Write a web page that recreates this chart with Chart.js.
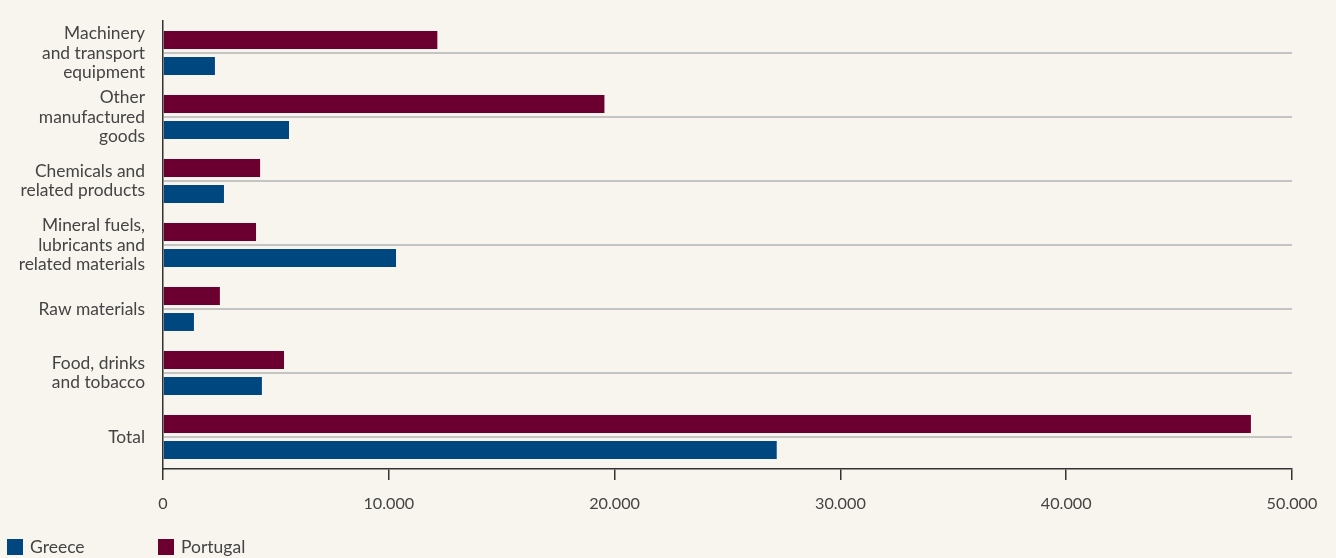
<!DOCTYPE html>
<html>
<head>
<meta charset="utf-8">
<script src="https://cdn.jsdelivr.net/npm/chart.js@4/dist/chart.umd.min.js"></script>
<style>
  html, body { margin: 0; padding: 0; background: #f8f5ee; }
  #wrap { position: relative; width: 1336px; height: 558px; }
  #legend { position: absolute; left: 7px; top: 536px; font: 17.5px Lato, sans-serif; color: #444; }
  #legend span.item { position: absolute; top: 0; white-space: nowrap; }
  #legend i { display: inline-block; width: 16px; height: 16px; vertical-align: -2px; margin-right: 7px; }
</style>
</head>
<body>
<div id="wrap">
  <canvas id="myChart" width="1336" height="558"></canvas>
  <div id="legend"></div>
</div>
<script>
const categories = [
  ["Machinery", "and transport", "equipment"],
  ["Other", "manufactured", "goods"],
  ["Chemicals and", "related products"],
  ["Mineral fuels,", "lubricants and", "related materials"],
  "Raw materials",
  ["Food, drinks", "and tobacco"],
  "Total"
];
const portugal = [12150, 19550, 4300, 4120, 2520, 5360, 48180];
const greece = [2300, 5580, 2700, 10320, 1370, 4380, 27180];
const xTicks = [0, 10000, 20000, 30000, 40000, 50000];

const colorPortugal = "#6b0030";
const colorGreece = "#00467f";
const textColor = "#444";

function formatThousands(v){
  return String(v).replace(/\B(?=(\d{3})+(?!\d))/g, ".");
}

const chart = new Chart("myChart", {
  type: "bar",
  data: {
    labels: categories,
    datasets: [
      { label: "Portugal", data: portugal, backgroundColor: colorPortugal },
      { label: "Greece", data: greece, backgroundColor: colorGreece }
    ]
  },
  options: {
    indexAxis: "y",
    responsive: false,
    animation: false,
    categoryPercentage: 0.8125,
    barPercentage: 0.69,
    layout: { padding: { top: 21, right: 44, bottom: 39, left: 0 } },
    plugins: {
      legend: { display: false },
      tooltip: { enabled: false }
    },
    scales: {
      x: {
        min: 0,
        max: 50000,
        afterBuildTicks: (scale) => { scale.ticks = xTicks.map(v => ({ value: v })); },
        afterFit: (scale) => { scale.height = 50; },
        border: { display: true, color: "#333", width: 1.5 },
        grid: { drawOnChartArea: false, drawTicks: true, tickLength: 11, color: "#333", lineWidth: 1.5 },
        ticks: {
          color: textColor,
          padding: 14,
          font: { family: "Lato", size: 16.2 },
          callback: (v) => formatThousands(v)
        }
      },
      y: {
        afterFit: (scale) => {
          scale.width = 163;
          scale.paddingTop = 0;
          scale.paddingBottom = 0;
        },
        border: { display: true, color: "#333", width: 1.5 },
        grid: { offset: false, drawTicks: false, color: "#c4c4c4", lineWidth: 2 },
        ticks: {
          color: textColor,
          padding: 18,
          font: { family: "Lato", size: 17.4, lineHeight: 1.1 }
        }
      }
    }
  }
});

// legend below the chart, Greece first
const legend = document.getElementById("legend");
const legendItems = [
  { label: "Greece", color: colorGreece, left: 0 },
  { label: "Portugal", color: colorPortugal, left: 151 }
];
legendItems.forEach((it) => {
  legend.innerHTML += `<span class="item" style="left:${it.left}px"><i style="background:${it.color}"></i>${it.label}</span>`;
});
</script>
</body>
</html>
